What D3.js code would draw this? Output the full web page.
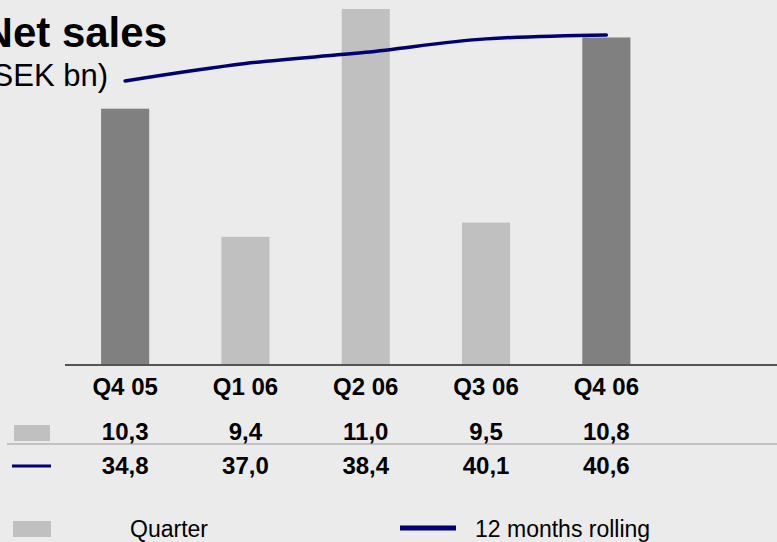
<!DOCTYPE html>
<html>
<head>
<meta charset="utf-8">
<script src="https://cdn.jsdelivr.net/npm/d3@7"></script>
<style>
  html, body { margin: 0; padding: 0; background: #ebebeb; overflow: hidden; }
  svg { display: block; font-family: Arial, "Liberation Sans", sans-serif; }
</style>
</head>
<body>
<svg id="chart" width="777" height="542"></svg>
<script>
// Quarterly net sales and the 12-month rolling total (SEK bn)
const quarters = ["Q4 05", "Q1 06", "Q2 06", "Q3 06", "Q4 06"];
const quarterSales = [10.3, 9.4, 11.0, 9.5, 10.8];
const rollingSales = [34.8, 37.0, 38.4, 40.1, 40.6];
const highlighted = ["Q4 05", "Q4 06"];
const legendLabels = ["Quarter", "12 months rolling"];

const fmt = v => d3.format(".1f")(v).replace(".", ",");

const navy = "#000070";
const barLight = "#c0c0c0";
const barDark = "#808080";

const svg = d3.select("#chart");

// Horizontal positions of the quarters
const x = d3.scalePoint().domain(quarters).range([65, 666.5]).padding(0.5);
const barW = x.step() * 0.4;

// Bars use a truncated axis; the rolling line has its own scale
const yBar = d3.scaleLinear().domain([8.5, 11.0]).range([365, 9]);
const yLine = d3.scaleLinear().domain([30, 45]).range([119, 0]);

// Bars
svg.append("g").selectAll("rect")
  .data(quarters)
  .join("rect")
  .attr("x", (d) => x(d) - barW / 2)
  .attr("y", (d, i) => yBar(quarterSales[i]))
  .attr("width", barW)
  .attr("height", (d, i) => yBar.range()[0] - yBar(quarterSales[i]))
  .attr("fill", d => highlighted.includes(d) ? barDark : barLight);

// Baseline
svg.append("line")
  .attr("x1", 65).attr("x2", 777)
  .attr("y1", yBar.range()[0]).attr("y2", yBar.range()[0])
  .attr("stroke", "#555").attr("stroke-width", 2);

// Title
svg.append("text")
  .attr("x", 167).attr("y", 47)
  .attr("text-anchor", "end")
  .attr("font-size", 42).attr("font-weight", "bold")
  .attr("fill", "#000")
  .text("Net sales");
svg.append("text")
  .attr("x", 108).attr("y", 86)
  .attr("text-anchor", "end")
  .attr("font-size", 31)
  .attr("fill", "#000")
  .text("(SEK bn)");

// Rolling line
const line = d3.line()
  .x((d, i) => x(quarters[i]))
  .y(d => yLine(d))
  .curve(d3.curveMonotoneX);
svg.append("path")
  .datum(rollingSales)
  .attr("d", line)
  .attr("fill", "none")
  .attr("stroke", navy)
  .attr("stroke-width", 3.5)
  .attr("stroke-linecap", "round");

// Quarter labels
svg.append("g").selectAll("text")
  .data(quarters)
  .join("text")
  .attr("x", d => x(d))
  .attr("y", 395)
  .attr("text-anchor", "middle")
  .attr("font-size", 24).attr("font-weight", "bold")
  .text(d => d);

// Data table
svg.append("rect")
  .attr("x", 14).attr("y", 425).attr("width", 36).attr("height", 16)
  .attr("fill", barLight);
svg.append("line")
  .attr("x1", 12).attr("x2", 51).attr("y1", 466).attr("y2", 466)
  .attr("stroke", navy).attr("stroke-width", 3);
svg.append("line")
  .attr("x1", 7).attr("x2", 777).attr("y1", 444).attr("y2", 444)
  .attr("stroke", "#999").attr("stroke-width", 1);

svg.append("g").selectAll("text")
  .data(quarterSales)
  .join("text")
  .attr("x", (d, i) => x(quarters[i]))
  .attr("y", 440)
  .attr("text-anchor", "middle")
  .attr("font-size", 24).attr("font-weight", "bold")
  .text(d => fmt(d));

svg.append("g").selectAll("text")
  .data(rollingSales)
  .join("text")
  .attr("x", (d, i) => x(quarters[i]))
  .attr("y", 474)
  .attr("text-anchor", "middle")
  .attr("font-size", 24).attr("font-weight", "bold")
  .text(d => fmt(d));

// Legend
svg.append("rect")
  .attr("x", 13).attr("y", 521).attr("width", 38).attr("height", 16)
  .attr("fill", barLight);
svg.append("text")
  .attr("x", 130).attr("y", 537)
  .attr("font-size", 23)
  .text(legendLabels[0]);
svg.append("line")
  .attr("x1", 400).attr("x2", 456).attr("y1", 528).attr("y2", 528)
  .attr("stroke", navy).attr("stroke-width", 5);
svg.append("text")
  .attr("x", 475).attr("y", 537)
  .attr("font-size", 23)
  .text(legendLabels[1]);
</script>
</body>
</html>
